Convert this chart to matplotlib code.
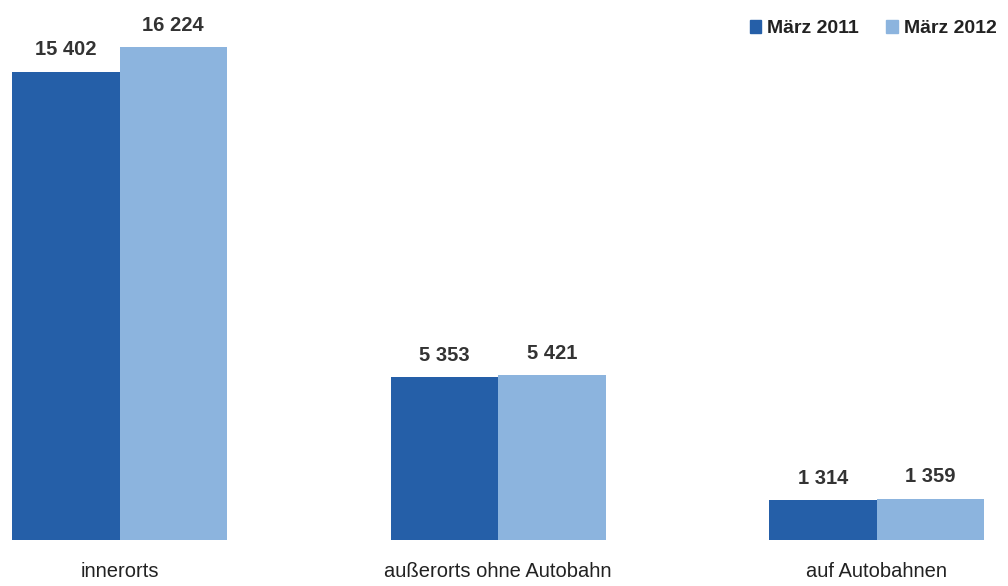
import numpy as np
import matplotlib
matplotlib.use("Agg")
import matplotlib.pyplot as plt
from matplotlib.patches import Patch

plt.rcParams['font.family'] = ['Liberation Sans', 'DejaVu Sans']

categories = ["innerorts", "außerorts ohne Autobahn", "auf Autobahnen"]
series_names = ["März 2011", "März 2012"]
vals_2011 = [15402, 5353, 1314]
vals_2012 = [16224, 5421, 1359]
colors = ["#255fa8", "#8cb4de"]

def fmt(v):
    return "{:,}".format(v).replace(",", " ")

fig = plt.figure(figsize=(10.08, 5.86), dpi=100)
ax = fig.add_axes([0, 0.0785, 1, 0.9215])

x = np.arange(len(categories))
w = 0.284
b1 = ax.bar(x - w/2, vals_2011, w, color=colors[0], linewidth=0)
b2 = ax.bar(x + w/2, vals_2012, w, color=colors[1], linewidth=0)

for bars, vals in ((b1, vals_2011), (b2, vals_2012)):
    for r, v in zip(bars, vals):
        ax.annotate(fmt(v), (r.get_x() + r.get_width()/2, v), xytext=(0, 9),
                    textcoords="offset points", ha="center", va="bottom",
                    fontsize=14.5, fontweight="bold", color="#333333")

ax.set_xlim(-0.3157, 2.347)
ax.set_ylim(0, 17771)
ax.set_xticks(x)
ax.set_xticklabels(categories, fontsize=14.5, color="#222222")
ax.tick_params(axis="x", length=0, pad=16)
ax.set_yticks([])
for s in ax.spines.values():
    s.set_visible(False)

handles = [Patch(color=c, label=n) for c, n in zip(colors, series_names)]
fig.legend(handles=handles, loc="upper right", bbox_to_anchor=(1.0, 0.985), ncol=2,
           frameon=False, prop={"size": 14, "weight": "bold"}, labelcolor="#222222",
           handlelength=0.6, handleheight=0.6, handletextpad=0.3,
           columnspacing=1.4, borderaxespad=0.2)

fig.savefig("out.png", dpi=100)
